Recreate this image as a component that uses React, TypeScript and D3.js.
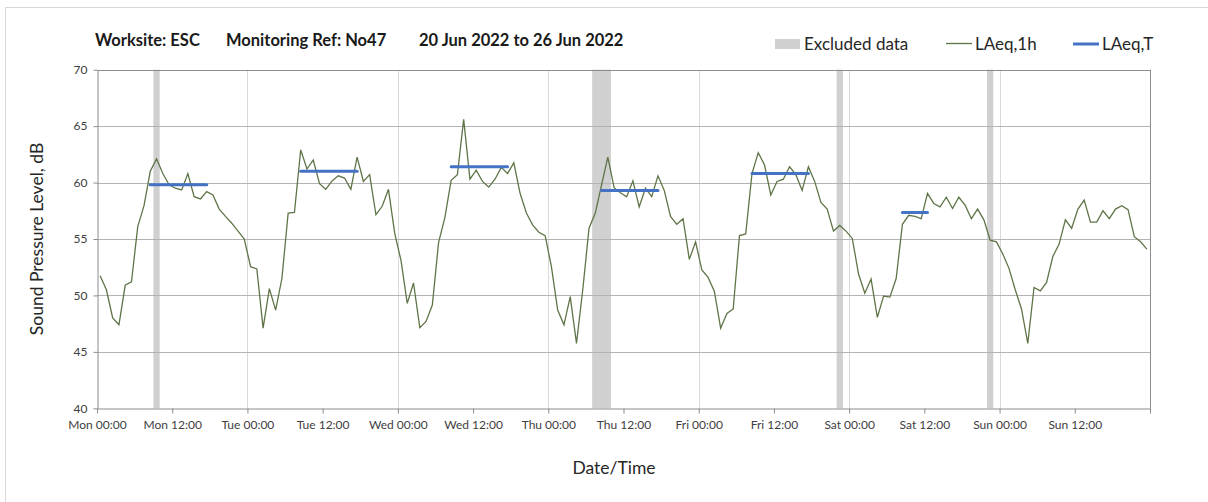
import React, { useEffect, useRef } from "react";
import * as d3 from "d3";

// hourly LAeq,1h values, Mon 00:00 -> Sun 23:00
const laeq1h: number[] = [
  51.75, 50.5, 48.0, 47.4, 50.9, 51.2, 56.1, 57.95, 61.0, 62.1, 60.8, 59.8, 59.5, 59.35, 60.8, 58.75, 58.55, 59.2, 58.9, 57.65, 57.0, 56.4, 55.7, 55.0,
  52.55, 52.35, 47.1, 50.6, 48.7, 51.5, 57.3, 57.35, 62.9, 61.2, 62.0, 59.9, 59.4, 60.15, 60.6, 60.4, 59.4, 62.25, 60.1, 60.7, 57.15, 57.9, 59.4, 55.5,
  53.1, 49.3, 51.1, 47.15, 47.7, 49.15, 54.7, 56.9, 60.2, 60.7, 65.6, 60.3, 61.1, 60.1, 59.6, 60.3, 61.35, 60.8, 61.75, 59.05, 57.3, 56.25, 55.6, 55.3,
  52.55, 48.7, 47.4, 49.9, 45.75, 50.5, 55.95, 57.3, 59.8, 62.25, 59.55, 59.1, 58.75, 60.15, 57.85, 59.5, 58.75, 60.6, 59.3, 57.0, 56.3, 56.8, 53.2, 54.75,
  52.25, 51.6, 50.35, 47.1, 48.4, 48.8, 55.3, 55.45, 60.8, 62.65, 61.55, 58.9, 60.1, 60.3, 61.4, 60.7, 59.3, 61.4, 60.1, 58.25, 57.65, 55.7, 56.2, 55.7,
  55.05, 51.9, 50.2, 51.45, 48.05, 49.95, 49.85, 51.5, 56.3, 57.1, 57.0, 56.8, 59.05, 58.15, 57.85, 58.7, 57.7, 58.7, 58.0, 56.8, 57.65, 56.7, 54.9, 54.75,
  53.7, 52.4, 50.5, 48.8, 45.75, 50.7, 50.4, 51.15, 53.45, 54.55, 56.7, 55.95, 57.65, 58.45, 56.5, 56.5, 57.5, 56.8, 57.65, 57.95, 57.6, 55.2, 54.75, 54.1,
];

// LAeq,T periods (first and last hour index) and levels
const tStart = [8, 32, 56, 80, 104, 128];
const tEnd = [17, 41, 65, 89, 113, 132];
const tValue = [59.8, 61.0, 61.4, 59.3, 60.8, 57.35];

// excluded data periods, hours from Mon 00:00
const exStart = [9, 79, 118, 142];
const exEnd = [10, 82, 119, 143];

const days = ["Mon", "Tue", "Wed", "Thu", "Fri", "Sat", "Sun"];
const yTicks = [40, 45, 50, 55, 60, 65, 70];

const FONT = "Lato, 'Open Sans', sans-serif";

const App = () => {
  const svgRef = useRef<SVGSVGElement>(null);

  useEffect(() => {
    const svg = d3.select(svgRef.current);
    svg.selectAll("*").remove();

    const width = 1208;
    const height = 502;
    const plot = { left: 97, right: 1150, top: 69.7, bottom: 408.3 };

    const x = d3.scaleLinear().domain([0, 168]).range([plot.left, plot.right]);
    const y = d3.scaleLinear().domain([40, 70]).range([plot.bottom, plot.top]);

    svg.attr("viewBox", `0 0 ${width} ${height}`);

    // outer chart border
    svg.append("rect")
      .attr("x", 5.5).attr("y", 7.5)
      .attr("width", width + 20).attr("height", height + 20)
      .attr("fill", "none").attr("stroke", "#d9d9d9");

    // excluded bands
    svg.append("g").selectAll("rect")
      .data(exStart)
      .enter().append("rect")
      .attr("x", (d) => x(d))
      .attr("width", (d, i) => x(exEnd[i]) - x(d))
      .attr("y", plot.top)
      .attr("height", plot.bottom - plot.top)
      .attr("fill", "#d0d0d0");

    // vertical day grid
    svg.append("g").selectAll("line")
      .data(d3.range(24, 168, 24))
      .enter().append("line")
      .attr("x1", (d) => Math.round(x(d)) + 0.5).attr("x2", (d) => Math.round(x(d)) + 0.5)
      .attr("y1", plot.top).attr("y2", plot.bottom)
      .attr("stroke", "#d9d9d9");

    // horizontal grid
    svg.append("g").selectAll("line")
      .data(yTicks.slice(1))
      .enter().append("line")
      .attr("x1", plot.left).attr("x2", plot.right)
      .attr("y1", (d) => Math.round(y(d)) + 0.5).attr("y2", (d) => Math.round(y(d)) + 0.5)
      .attr("stroke", "#b3b3b3");

    // frame right side
    svg.append("line")
      .attr("x1", Math.round(x(168)) + 0.5).attr("x2", Math.round(x(168)) + 0.5)
      .attr("y1", plot.top).attr("y2", plot.bottom + 5)
      .attr("stroke", "#8c8c8c");

    // y axis
    const yAxis = d3.axisLeft(y).tickValues(yTicks).tickSize(4).tickSizeOuter(0).tickPadding(6);
    const gy = svg.append("g")
      .attr("transform", `translate(${Math.round(plot.left) + 0.5},0)`)
      .call(yAxis);
    gy.select(".domain").attr("stroke", "#8c8c8c");
    gy.selectAll(".tick line").attr("stroke", "#8c8c8c");
    gy.selectAll(".tick text")
      .attr("font-family", FONT).attr("font-size", 12).attr("fill", "#404040");

    // x axis
    const labels = d3.range(0, 168, 12).map((h) => `${days[Math.floor(h / 24)]} ${h % 24 === 0 ? "00:00" : "12:00"}`);
    const xAxis = d3.axisBottom(x)
      .tickValues(d3.range(0, 169, 12))
      .tickFormat((d, i) => labels[i] || "")
      .tickSize(5).tickSizeOuter(0).tickPadding(7);
    const gx = svg.append("g")
      .attr("transform", `translate(0,${Math.round(plot.bottom) + 0.5})`)
      .call(xAxis);
    gx.select(".domain").attr("stroke", "#8c8c8c");
    gx.selectAll(".tick line").attr("stroke", "#8c8c8c");
    gx.selectAll(".tick text")
      .attr("font-family", FONT).attr("font-size", 12).attr("fill", "#404040");

    // top frame line
    svg.append("line")
      .attr("x1", plot.left).attr("x2", plot.right)
      .attr("y1", Math.round(y(70)) + 0.5).attr("y2", Math.round(y(70)) + 0.5)
      .attr("stroke", "#8c8c8c");

    // LAeq,1h line
    const line = d3.line<number>()
      .x((d, i) => x(i + 0.5))
      .y((d) => y(d));
    svg.append("path")
      .datum(laeq1h)
      .attr("fill", "none")
      .attr("stroke", "#5f7548")
      .attr("stroke-width", 1.3)
      .attr("d", line);

    // LAeq,T segments
    svg.append("g").selectAll("line")
      .data(tValue)
      .enter().append("line")
      .attr("x1", (d, i) => x(tStart[i] + 0.5))
      .attr("x2", (d, i) => x(tEnd[i] + 0.5))
      .attr("y1", (d) => y(d)).attr("y2", (d) => y(d))
      .attr("stroke", "#4472c4")
      .attr("stroke-width", 3)
      .attr("stroke-linecap", "round");

    // title
    const title = svg.append("g")
      .attr("font-family", FONT).attr("font-size", 16.5).attr("font-weight", "bold").attr("fill", "#1a1a1a");
    title.append("text").attr("x", 95).attr("y", 46).text("Worksite: ESC");
    title.append("text").attr("x", 226).attr("y", 46).text("Monitoring Ref: No47");
    title.append("text").attr("x", 419).attr("y", 46).text("20 Jun 2022 to 26 Jun 2022");

    // legend
    const legend = svg.append("g")
      .attr("font-family", FONT).attr("font-size", 17).attr("fill", "#262626");
    legend.append("rect").attr("x", 775).attr("y", 39).attr("width", 25).attr("height", 10).attr("fill", "#d0d0d0");
    legend.append("text").attr("x", 804).attr("y", 50).text("Excluded data");
    legend.append("line").attr("x1", 946).attr("x2", 972).attr("y1", 43.5).attr("y2", 43.5)
      .attr("stroke", "#5f7548").attr("stroke-width", 1.3);
    legend.append("text").attr("x", 975).attr("y", 50).text("LAeq,1h");
    legend.append("line").attr("x1", 1073).attr("x2", 1099).attr("y1", 44).attr("y2", 44)
      .attr("stroke", "#4472c4").attr("stroke-width", 3);
    legend.append("text").attr("x", 1102).attr("y", 50).text("LAeq,T");

    // axis titles
    svg.append("text")
      .attr("transform", `translate(43,${(plot.top + plot.bottom) / 2}) rotate(-90)`)
      .attr("text-anchor", "middle")
      .attr("font-family", FONT).attr("font-size", 17.5).attr("fill", "#262626")
      .text("Sound Pressure Level, dB");
    svg.append("text")
      .attr("x", 614).attr("y", 474)
      .attr("text-anchor", "middle")
      .attr("font-family", FONT).attr("font-size", 17.5).attr("fill", "#262626")
      .text("Date/Time");
  }, []);

  return (
    <svg
      ref={svgRef}
      width={1208}
      height={502}
      style={{ position: "absolute", left: 0, top: 0, background: "#fff" }}
    />
  );
};

export default App;
